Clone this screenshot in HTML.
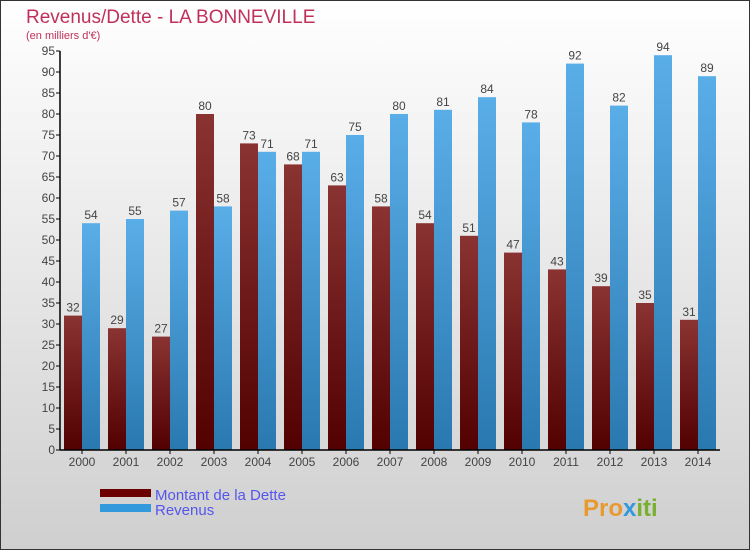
<!DOCTYPE html>
<html><head><meta charset="utf-8"><style>
body{margin:0}
svg{display:block;font-family:"Liberation Sans",sans-serif}
</style></head><body>
<svg width="750" height="550" viewBox="0 0 750 550">
<defs>
<linearGradient id="bg" x1="0" y1="0" x2="0" y2="1"><stop offset="0" stop-color="#ffffff"/><stop offset="1" stop-color="#cfcfcf"/></linearGradient>
<linearGradient id="gd" x1="0" y1="0" x2="0" y2="1"><stop offset="0" stop-color="#8a3333"/><stop offset="1" stop-color="#520000"/></linearGradient>
<linearGradient id="gr" x1="0" y1="0" x2="0" y2="1"><stop offset="0" stop-color="#5aaee8"/><stop offset="1" stop-color="#2a78b0"/></linearGradient>
</defs>
<rect x="0.5" y="0.5" width="749" height="549" fill="url(#bg)" stroke="#333"/>
<text x="26" y="23" font-size="19" fill="#c0305a">Revenus/Dette - LA BONNEVILLE</text>
<text x="26" y="39" font-size="11" fill="#c0305a">(en milliers d'€)</text>
<g id="plot"></g>
<g>
<rect x="100" y="489" width="51" height="8" fill="#6a0000"/>
<text x="155" y="500" font-size="15" fill="#5555ee">Montant de la Dette</text>
<rect x="100" y="504" width="51" height="8" fill="#3399dd"/>
<text x="155" y="515" font-size="15" fill="#5555ee">Revenus</text>
</g>
<text x="583" y="516" font-size="24" font-weight="bold" fill="#e89a30">Pro<tspan fill="#3399dd">x</tspan><tspan fill="#7ab030">iti</tspan></text>
</svg>
<script>
const years=["2000","2001","2002","2003","2004","2005","2006","2007","2008","2009","2010","2011","2012","2013","2014"];
const dette=[32,29,27,80,73,68,63,58,54,51,47,43,39,35,31];
const revenus=[54,55,57,58,71,71,75,80,81,84,78,92,82,94,89];
const yTicks=[0,5,10,15,20,25,30,35,40,45,50,55,60,65,70,75,80,85,90,95];
const NS="http://www.w3.org/2000/svg";
const g=document.getElementById('plot');
const x0=60,x1=720,y0=450,yTop=51,yMax=95;
const yS=v=>y0-(v/yMax)*(y0-yTop);
const step=(x1-x0)/years.length;
const xC=i=>x0+step*(i+0.5);
function mk(t,a){const e=document.createElementNS(NS,t);for(const k in a)e.setAttribute(k,a[k]);g.appendChild(e);return e;}
yTicks.forEach(v=>{
 const l=mk('line',{x1:x0-4,x2:x0,y1:yS(v),y2:yS(v),stroke:'#000'});
 
 
 const t=mk('text',{x:x0-5,y:yS(v)+4,'font-size':12,'text-anchor':'end',fill:'#444'});
 t.textContent=v;
 
 
});
years.forEach((y,i)=>{
 const c=xC(i);
 const b1=mk('rect',{x:c-18,y:yS(dette[i]),width:18,height:y0-yS(dette[i]),fill:'url(#gd)'});
 
 
 const b2=mk('rect',{x:c,y:yS(revenus[i]),width:18,height:y0-yS(revenus[i]),fill:'url(#gr)'});
 
 
 const t1=mk('text',{x:c-9,y:yS(dette[i])-4,'font-size':12,'text-anchor':'middle',fill:'#444'});
 t1.textContent=dette[i];
 
 
 const t2=mk('text',{x:c+9,y:yS(revenus[i])-4,'font-size':12,'text-anchor':'middle',fill:'#444'});
 t2.textContent=revenus[i];
 
 
 const tk=mk('line',{x1:c,x2:c,y1:y0,y2:y0+4,stroke:'#000'});
 
 
 const xl=mk('text',{x:c,y:y0+16,'font-size':12,'text-anchor':'middle',fill:'#444'});
 xl.textContent=y;
 
 
});
const ya=mk('line',{x1:x0,x2:x0,y1:yTop,y2:y0,stroke:'#000','stroke-width':1.5});


const xa=mk('line',{x1:x0,x2:x1,y1:y0,y2:y0,stroke:'#000','stroke-width':1.5});


</script>
</body></html>
